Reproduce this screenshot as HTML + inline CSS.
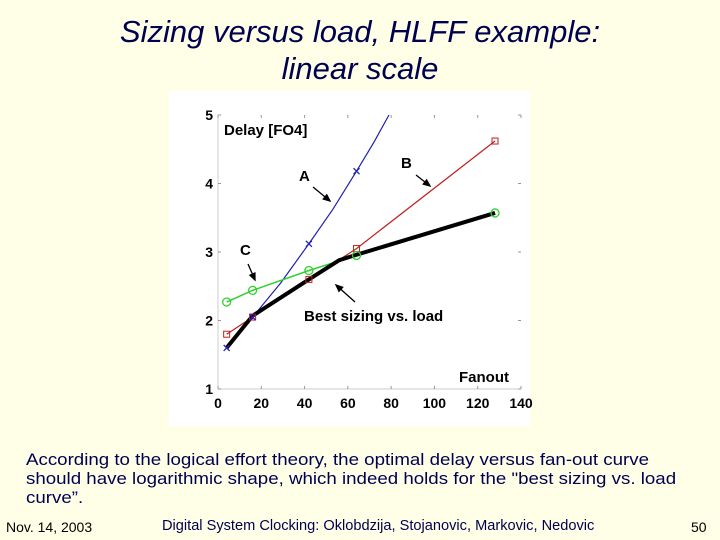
<!DOCTYPE html>
<html><head><meta charset="utf-8"><style>
body{margin:0;width:720px;height:540px;background:#FFFFE8;overflow:hidden;position:relative;font-family:"Comic Sans MS","Liberation Sans",sans-serif;color:#000050}
.t{position:absolute;left:0;width:720px;text-align:center;font-style:italic;font-size:31px;line-height:38px}
.p{position:absolute;left:26px;top:450px;font-size:17px;line-height:19px;white-space:nowrap;transform:scaleX(1.1);transform-origin:0 0}
.f{position:absolute;top:519px;font-size:14px}
</style></head><body>
<div class="t" style="top:13px">Sizing versus load, HLFF example:</div>
<div class="t" style="top:50px">linear scale</div>
<svg width="720" height="540" style="position:absolute;left:0;top:0" id="chart">
<rect x="169" y="91" width="361" height="335" fill="#fff"/>
</svg>
<div class="p">According to the logical effort theory, the optimal delay versus fan-out curve<br>should have logarithmic shape, which indeed holds for the "best sizing vs. load<br>curve”.</div>
<div class="f" style="left:6px;color:#000">Nov. 14, 2003</div>
<div class="f" style="left:162px;font-size:14.6px;top:518px">Digital System Clocking: Oklobdzija, Stojanovic, Markovic, Nedovic</div>
<div class="f" style="left:691px;color:#000">50</div>
<script>
const xTicks=[0,20,40,60,80,100,120,140];
const yTicks=[1,2,3,4,5];
const aX=[4,16,29,42,53,64,72,79];
const aY=[1.6,2.05,2.55,3.12,3.62,4.18,4.6,5.0];
const aMarkX=[4,16,42,64];
const aMarkY=[1.6,2.05,3.12,4.18];
const bX=[4,16,42,64,128];
const bY=[1.8,2.05,2.6,3.05,4.62];
const cX=[4,16,42,64,128];
const cY=[2.27,2.44,2.73,2.95,3.57];
const bestX=[4,16,42,56,64,128];
const bestY=[1.6,2.07,2.6,2.88,2.96,3.57];
const NS='http://www.w3.org/2000/svg';
const svg=document.getElementById('chart');
const sx=v=>218+v*(521-218)/140;
const sy=v=>389-(v-1)*(389-115)/4;
function mk(t,a){const e=document.createElementNS(NS,t);for(const k in a)e.setAttribute(k,a[k]);svg.appendChild(e);return e;}
let e;
e=mk('line',{x1:218,y1:115,x2:218,y2:389,stroke:'#ccc'});


e=mk('line',{x1:218,y1:389,x2:521,y2:389,stroke:'#ccc'});


xTicks.forEach(v=>{
 mk('line',{x1:sx(v),y1:389,x2:sx(v),y2:386,stroke:'#999'});
 mk('line',{x1:sx(v),y1:115,x2:sx(v),y2:118,stroke:'#999'});
 e=mk('text',{x:sx(v),y:408,'text-anchor':'middle','font-size':14,'font-weight':'bold','font-family':'Liberation Sans'});e.textContent=v;
 
 
});
yTicks.forEach(v=>{
 mk('line',{x1:218,y1:sy(v),x2:221,y2:sy(v),stroke:'#999'});
 mk('line',{x1:521,y1:sy(v),x2:518,y2:sy(v),stroke:'#999'});
 e=mk('text',{x:213,y:sy(v)+5,'text-anchor':'end','font-size':14,'font-weight':'bold','font-family':'Liberation Sans'});e.textContent=v;
 
 
});
function pts(X,Y){return X.map((x,i)=>sx(x)+','+sy(Y[i])).join(' ');}
e=mk('polyline',{points:pts(aX,aY),fill:'none',stroke:'#2020b0','stroke-width':1.2});


e=mk('polyline',{points:pts(bX,bY),fill:'none',stroke:'#c02020','stroke-width':1.2});


e=mk('polyline',{points:pts(cX,cY),fill:'none',stroke:'#30d030','stroke-width':1.5});


e=mk('polyline',{points:pts(bestX,bestY),fill:'none',stroke:'#000','stroke-width':4});


bX.forEach((x,i)=>{e=mk('rect',{x:sx(x)-3,y:sy(bY[i])-3,width:6,height:6,fill:'none',stroke:'#c02020'});
 
 });
cX.forEach((x,i)=>{e=mk('circle',{cx:sx(x),cy:sy(cY[i]),r:4,fill:'none',stroke:'#30d030','stroke-width':1.3});
 
 });
aMarkX.forEach((x,i)=>{const X=sx(x),Y=sy(aMarkY[i]);e=mk('path',{d:`M${X-3} ${Y-3}L${X+3} ${Y+3}M${X-3} ${Y+3}L${X+3} ${Y-3}`,stroke:'#2020b0','stroke-width':1.3});
 
 });
const labels=[['Delay [FO4]',224,135,'y-axis-title'],['A',299,181,'label-a'],['B',401,168,'label-b'],['C',240,255,'label-c'],['Best sizing vs. load',304,321,'label-best'],['Fanout',459,382,'x-axis-title']];
labels.forEach(l=>{e=mk('text',{x:l[1],y:l[2],'font-size':15,'font-weight':'bold','font-family':'Liberation Sans'});e.textContent=l[0];
 
 });
const arrows=[[313,187,330,201],[416,175,430,186],[248,264,255,280],[355,302,336,285]];
arrows.forEach(a=>{const[x1,y1,x2,y2]=a;const ang=Math.atan2(y2-y1,x2-x1);
 e=mk('path',{d:`M${x1} ${y1}L${x2} ${y2}M${x2} ${y2}L${x2-7*Math.cos(ang-0.4)} ${y2-7*Math.sin(ang-0.4)}L${x2-7*Math.cos(ang+0.4)} ${y2-7*Math.sin(ang+0.4)}Z`,stroke:'#000','stroke-width':1.3,fill:'#000'});
 
 });
</script>
</body></html>
